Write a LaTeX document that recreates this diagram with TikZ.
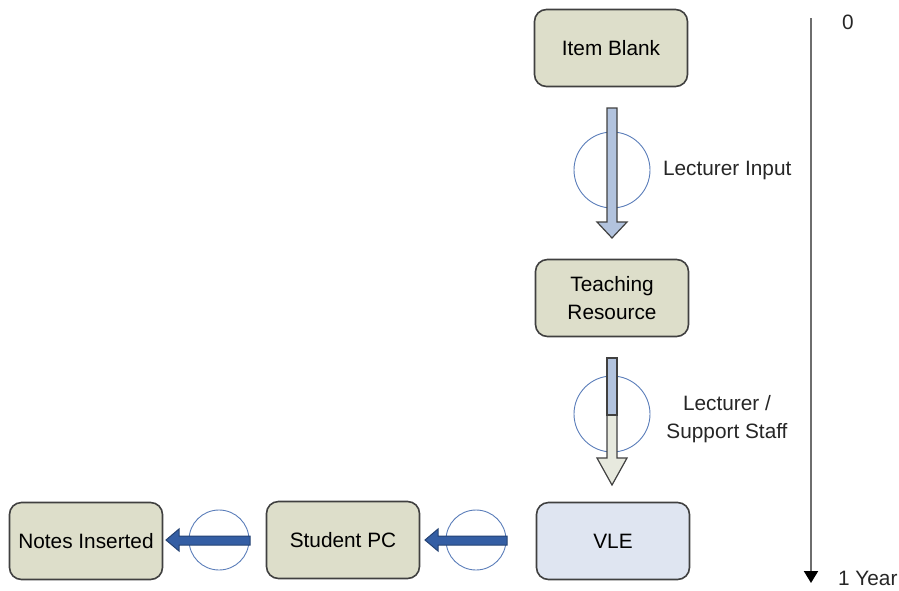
\documentclass[tikz,border=0pt]{standalone}
\usepackage{fontspec}
\setmainfont{Liberation Sans}
\usetikzlibrary{arrows.meta}

\definecolor{boxfill}{RGB}{221,222,202}
\definecolor{vlefill}{RGB}{223,229,241}
\definecolor{boxline}{RGB}{64,64,64}
\definecolor{ringblue}{RGB}{90,125,185}
\definecolor{lightarrow}{RGB}{178,195,222}
\definecolor{palearrow}{RGB}{231,233,222}
\definecolor{darkarrow}{RGB}{52,94,164}
\definecolor{timegrey}{RGB}{110,110,110}

\tikzset{
  itembox/.style={draw=boxline, line width=0.8pt, fill=boxfill, rounded corners=6pt,
    minimum width=76.5pt, minimum height=38.5pt, align=center,
    font=\fontsize{10.4}{14}\selectfont},
  ring/.style={draw=ringblue, line width=0.45pt},
  label/.style={font=\fontsize{10.4}{14}\selectfont, text=black!85},
}

\begin{document}
\begin{tikzpicture}[x=0.5pt, y=-0.5pt]
        \useasboundingbox (0,0) rectangle (899,590);

        % boxes
        \node[itembox] (blank) at (611,48) {Item Blank};
        \node[itembox] (resource) at (612,298) {Teaching\\Resource};
        \node[itembox, fill=vlefill] (vle) at (613,541) {VLE};
        \node[itembox] (studentpc) at (343,540) {Student PC};
        \node[itembox] (notes) at (86,541) {Notes Inserted};

        % rings behind the arrows
        \draw[ring] (612,170) circle (38);
        \draw[ring] (612,414) circle (38);
        \draw[ring] (476,540) circle (30);
        \draw[ring] (219,540) circle (30);

        % lecturer input
        \filldraw[draw=boxline, line width=0.6pt, fill=lightarrow]
            (607,108) -- (617,108) -- (617,222) -- (627,222) -- (612,238)
            -- (597,222) -- (607,222) -- cycle;
        \node[label, anchor=west] (input) at (656,170) {Lecturer Input};

        % lecturer / support staff
        \filldraw[draw=boxline, line width=0.6pt, fill=palearrow]
            (607,415) -- (617,415) -- (617,458) -- (627,458) -- (612,485)
            -- (597,458) -- (607,458) -- cycle;
        \filldraw[draw=boxline, line width=0.6pt, fill=lightarrow]
            (607,358) rectangle (617,415);
        \node[label, align=center] (staff) at (727,419) {Lecturer /\\Support Staff};

        % delivery to student
        \filldraw[draw=darkarrow!70!black, line width=0.5pt, fill=darkarrow]
            (507,536) -- (438,536) -- (438,529) -- (425,540) -- (438,551)
            -- (438,545) -- (507,545) -- cycle;
        \filldraw[draw=darkarrow!70!black, line width=0.5pt, fill=darkarrow]
            (250,536) -- (179,536) -- (179,529) -- (166,540) -- (179,551)
            -- (179,545) -- (250,545) -- cycle;

        % time line
        \coordinate (t0) at (811,18);
        \coordinate (t1) at (811,583);
        \draw[timegrey, line width=1pt, -{Triangle[width=7pt, length=6pt, fill=black, color=black]}] (t0) -- (t1);
        \node[label, anchor=west] (zero) at (835,22) {0};
        \node[label, anchor=west] (year) at (831,578) {1 Year};

    \end{tikzpicture}
\end{document}
